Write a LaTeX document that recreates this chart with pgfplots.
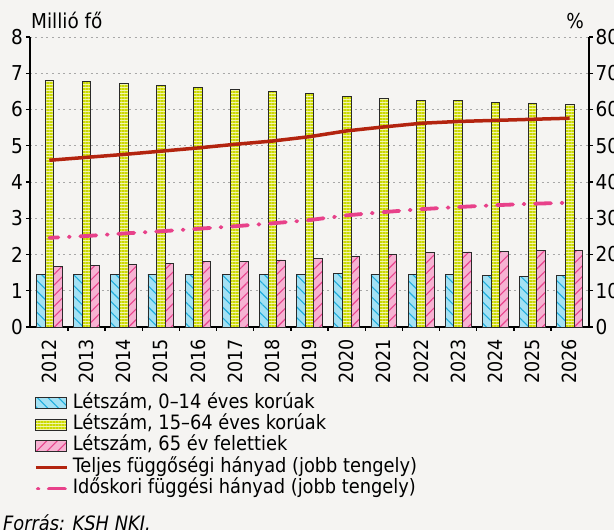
\documentclass[border=0pt]{standalone}
\usepackage{fontspec}
\setmainfont{DejaVu Sans Condensed}
\usepackage{pgfplots}
\pgfplotsset{compat=1.18}
\usetikzlibrary{patterns.meta}
\definecolor{bg}{HTML}{F5F4F2}
\definecolor{bluefill}{HTML}{A3E1F4}
\definecolor{blueline}{HTML}{1FAEDD}
\definecolor{yelfill}{HTML}{F2F4B0}
\definecolor{yelline}{HTML}{CCDA00}
\definecolor{pinkfill}{HTML}{F6B2D2}
\definecolor{pinkline}{HTML}{E8438D}
\definecolor{redline}{HTML}{B3240F}
\definecolor{pinkdash}{HTML}{E8418A}
\definecolor{gridc}{HTML}{A8A8A8}
\definecolor{edge}{HTML}{2A2A2A}

\newcommand{\bigfont}{\fontsize{20.5}{24}\selectfont}
\newcommand{\tickfont}{\fontsize{19.5}{23}\selectfont}
\newcommand{\legfont}{\fontsize{19.8}{23}\selectfont}

\pgfplotsset{
  barleg/.style={legend image code/.code={\draw[##1] (0pt,-5.5pt) rectangle (31pt,5.5pt);}},
  lineleg/.style={legend image code/.code={\draw[##1] (0pt,0pt) -- (31pt,0pt);}},
  dashleg/.style={legend image code/.code={\draw[##1, dash phase=27pt] (2pt,0pt) -- (31pt,0pt);}},
}

\pgfplotstableread{
x young work old total oldage
0  1.45 6.81 1.67 46.0 24.6
1  1.45 6.78 1.69 46.8 25.1
2  1.45 6.72 1.72 47.6 25.8
3  1.46 6.67 1.75 48.5 26.4
4  1.46 6.61 1.80 49.4 27.1
5  1.46 6.56 1.81 50.4 27.8
6  1.46 6.51 1.85 51.3 28.6
7  1.46 6.45 1.90 52.5 29.5
8  1.47 6.37 1.95 54.1 30.8
9  1.45 6.31 2.00 55.2 31.7
10 1.45 6.26 2.05 56.2 32.5
11 1.45 6.25 2.07 56.7 33.1
12 1.42 6.20 2.08 57.0 33.6
13 1.40 6.18 2.10 57.3 34.0
14 1.41 6.14 2.12 57.6 34.3
}\datatab

\begin{document}
\bigfont
\begin{tikzpicture}
\fill[bg] (0,0) rectangle (614pt,530pt);
\useasboundingbox (0,0) rectangle (614pt,530pt);

\begin{axis}[
  at={(30pt,203pt)}, anchor=south west,
  scale only axis, width=559pt, height=290pt,
  xmin=-0.52, xmax=14.52, ymin=0, ymax=8,
  axis x line*=bottom, axis y line*=left,
  axis line style={line width=1.6pt, black, -},
  ybar=0pt, bar width=8.6pt,
  xtick={0,...,14},
  xticklabels={2012,2013,2014,2015,2016,2017,2018,2019,2020,2021,2022,2023,2024,2025,2026},
  major x tick style={draw=none},
  minor xtick={0.5,1.5,...,13.5},
  minor tick length=4pt,
  tick align=outside,
  x tick label style={rotate=90, anchor=east, font=\tickfont, xshift=-1pt},
  ytick={0,...,8},
  y tick label style={font=\bigfont, xshift=4pt},
  major tick length=4pt,
  tick style={line width=1.4pt, black},
  ymajorgrids,
  major grid style={gridc, line width=0.9pt, dash pattern=on 2pt off 3.5pt},
  /pgf/number format/assume math mode=true,
  clip=false,
]
\addplot[fill=bluefill, draw=edge, line width=0.8pt,
  postaction={pattern={Lines[angle=-45,distance=7.5pt,line width=1.1pt]}, pattern color=blueline}]
  table[x=x,y=young]{\datatab};
\addplot[fill=yelfill, draw=edge, line width=0.8pt,
  postaction={pattern={Lines[angle=0,distance=3pt,line width=1.4pt]}, pattern color=yelline}]
  table[x=x,y=work]{\datatab};
\addplot[fill=pinkfill, draw=edge, line width=0.8pt,
  postaction={pattern={Lines[angle=45,distance=7.5pt,line width=1.1pt]}, pattern color=pinkline}]
  table[x=x,y=old]{\datatab};
\end{axis}

\begin{axis}[
  at={(30pt,203pt)}, anchor=south west,
  scale only axis, width=559pt, height=290pt,
  xmin=-0.52, xmax=14.52, ymin=0, ymax=80,
  axis x line=none, axis y line*=right,
  axis line style={line width=1.6pt, black, -},
  ytick={0,10,...,80},
  y tick label style={font=\bigfont, xshift=-4.5pt},
  major tick length=4pt, tick align=outside,
  tick style={line width=1.4pt, black},
  /pgf/number format/assume math mode=true,
  clip=false,
  legend cell align=left,
  legend style={at={(axis description cs:0.007,-0.226)}, anchor=north west,
    draw=none, fill=none, inner sep=0pt, row sep=0pt,
    font=\legfont,
    nodes={text height=14.5pt, text depth=4.8pt, inner ysep=1pt, inner xsep=4pt}},
  barleg,
]
\addlegendimage{fill=bluefill, draw=edge, line width=0.8pt,
  postaction={pattern={Lines[angle=-45,distance=7.5pt,line width=1.1pt]}, pattern color=blueline}}
\addlegendentry{Létszám, 0–14 éves korúak}
\addlegendimage{fill=yelfill, draw=edge, line width=0.8pt,
  postaction={pattern={Lines[angle=0,distance=3pt,line width=1.4pt]}, pattern color=yelline}}
\addlegendentry{Létszám, 15–64 éves korúak}
\addlegendimage{fill=pinkfill, draw=edge, line width=0.8pt,
  postaction={pattern={Lines[angle=45,distance=7.5pt,line width=1.1pt]}, pattern color=pinkline}}
\addlegendentry{Létszám, 65 év felettiek}
\addplot[redline, line width=3.5pt, no markers, lineleg]
  table[x=x,y=total]{\datatab};
\addlegendentry{Teljes függőségi hányad (jobb tengely)}
\addplot[pinkdash, line width=3.8pt, no markers, line cap=round,
  dash pattern=on 16pt off 10.5pt on 1pt off 10.5pt, dash phase=7pt, dashleg]
  table[x=x,y=oldage]{\datatab};
\addlegendentry{Időskori függési hányad (jobb tengely)}
\end{axis}

\node[anchor=base west, inner sep=0pt] at (31pt,501pt) {Millió fő};
\node[anchor=base east, inner sep=0pt] at (584pt,501pt) {\%};
\node[anchor=base west, inner sep=0pt, font=\legfont] at (3pt,-1pt) {\itshape Forrás: KSH NKI.};
\end{tikzpicture}
\end{document}
